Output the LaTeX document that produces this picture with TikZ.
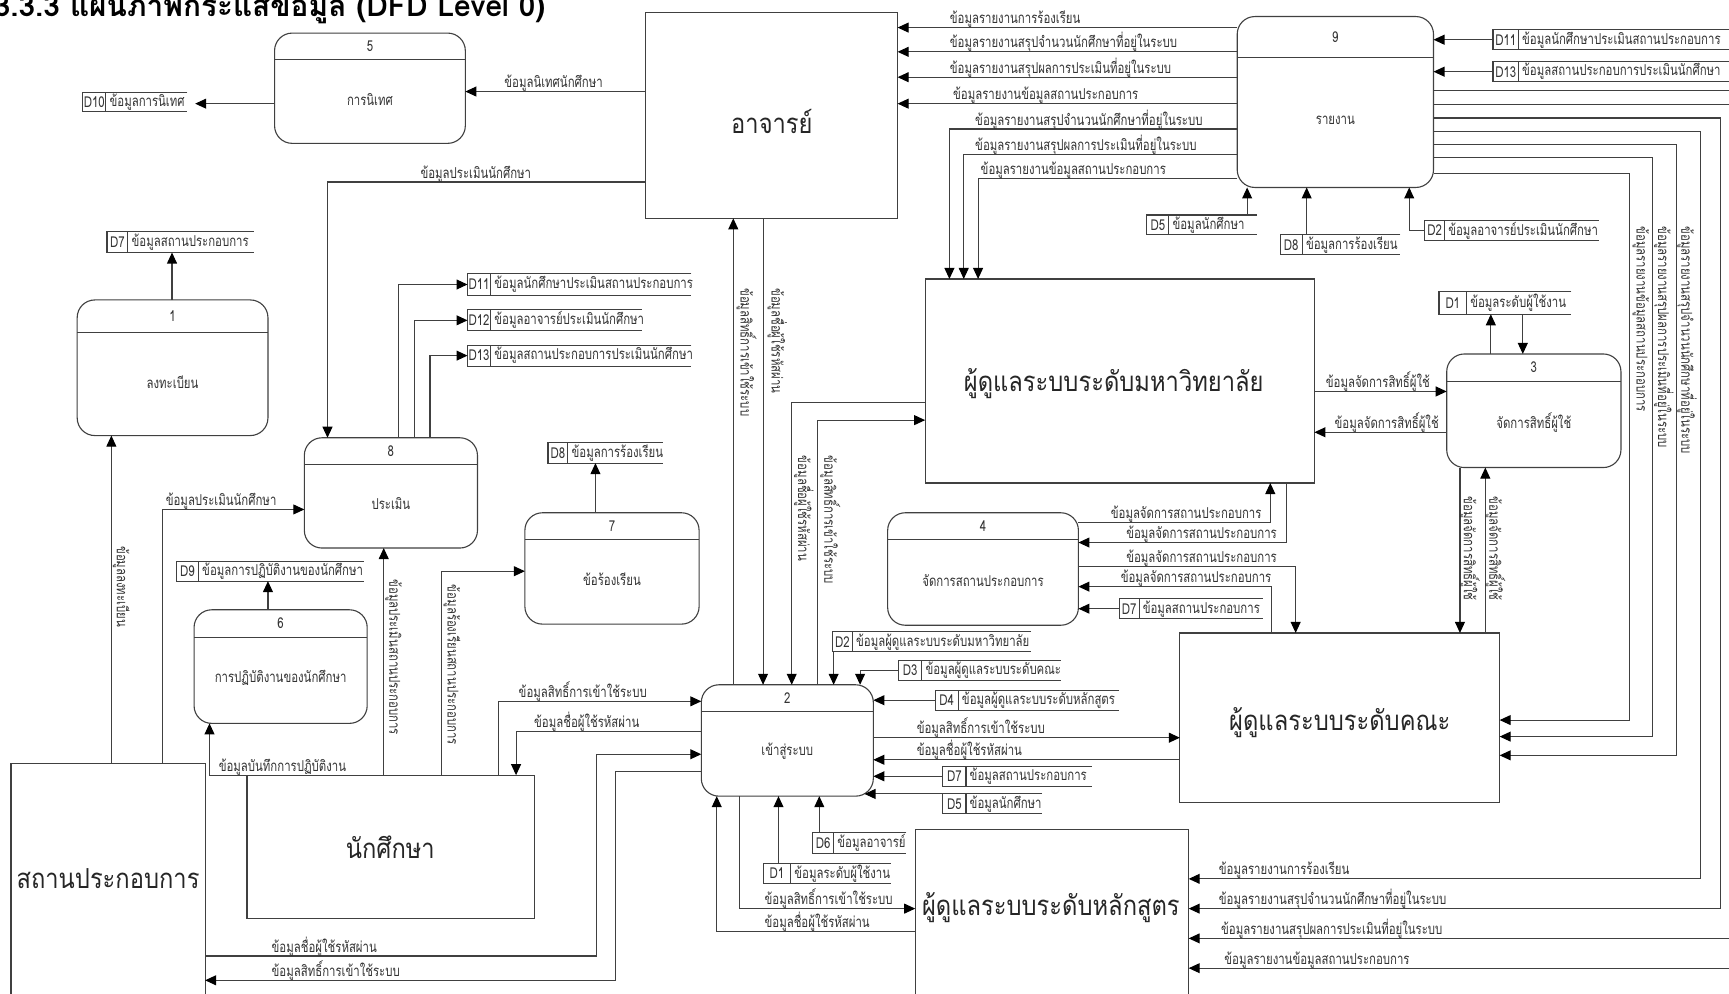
\documentclass[tikz,border=0pt]{standalone}
\usepackage{fontspec}
\usetikzlibrary{arrows.meta}
\newfontfamily\thaif[Script=Thai,FakeStretch=0.76]{Loma}
\newfontfamily\thaibig[Script=Thai,FakeStretch=0.86]{Loma}
\newfontfamily\thaititle[Script=Thai]{Loma}
\newcommand\lblfont{\thaif\fontsize{6.8}{8}\selectfont}
\newcommand\bigfont{\thaibig\fontsize{12.5}{15}\selectfont}
\newcommand\titlefont{\thaititle\bfseries\fontsize{13.5}{16}\selectfont}
\tikzset{
  ln/.style={draw=black!75, line width=0.5pt},
  arr/.style={ln, -{Triangle[length=5pt,width=4.5pt,color=black]}},
  ent/.style={draw=black!75, line width=0.5pt},
  proc/.style={draw=black!75, line width=0.5pt, rounded corners=8pt},
  storebox/.style={},
  lbl/.style={font=\lblfont, text=black!80, inner sep=0pt},
  biglbl/.style={font=\bigfont, text=black!85, inner sep=0pt},
}
\newcommand\mkbox[6]{%
  \pgfmathsetmacro\bw{((#5)-(#3))*0.5}%
  \pgfmathsetmacro\bh{((#6)-(#4))*0.5}%
  \node[#1, minimum width=\bw pt, minimum height=\bh pt, inner sep=0pt, outer sep=0pt, anchor=north west] (#2) at (#3,#4) {};}
\newcommand\mkproc[7]{%
  \mkbox{proc}{#1}{#2}{#3}{#4}{#5}%
  \pgfmathsetmacro\hy{#3+0.24*(#5-#3)}%
  \draw[ln] (#2,\hy) -- (#4,\hy);
  \node[lbl] (#1-n) at ({(#2+#4)/2},{(#3+\hy)/2}) {#6};
  \node[lbl] (#1-t) at ({(#2+#4)/2},{(\hy+#5)/2-2}) {#7};}
\newcommand\mkstore[8]{%
  \mkbox{storebox}{#1}{#2}{#3}{#4}{#5}%
  \draw[ln] (#4,#3) -- (#2,#3) -- (#2,#5) -- (#4,#5);
  \draw[ln] (#6,#3) -- (#6,#5);
  \node[lbl] (#1-id) at ({(#2+#6)/2},{(#3+#5)/2}) {#7};
  \node[lbl, anchor=west] (#1-t) at ({#6+3},{(#3+#5)/2}) {#8};}
\newcommand\hl[4]{\node[lbl, anchor=base west] (#1) at (#2,{#3-3.5}) {#4};}
\newcommand\vl[4]{\node[lbl, rotate=-90, anchor=west] (#1) at (#2,#3) {#4};}
\begin{document}
\begin{tikzpicture}[x=0.5pt,y=-0.5pt]
\fill[white] (0,0) rectangle (1568,901);
\useasboundingbox (0,0) rectangle (1568,901);
\node[anchor=base west, inner sep=0pt] (title) at (-6,15) {\titlefont 3.3.3 แผนภาพกระแสข้อมูล (DFD Level 0)};
% entities
\mkbox{ent}{aj}{585}{11}{814}{198}
\mkbox{ent}{uni}{839}{253}{1192}{438}
\mkbox{ent}{fac}{1070}{574}{1360}{728}
\mkbox{ent}{cur}{830}{752}{1078}{915}
\mkbox{ent}{std}{224}{703}{485}{833}
\mkbox{ent}{est}{10}{692}{186}{915}
\node[biglbl] (aj-t) at (700,110) {อาจารย์};
\node[biglbl] (uni-t) at (1010,348) {ผู้ดูแลระบบระดับมหาวิทยาลัย};
\node[biglbl] (fac-t) at (1215,655) {ผู้ดูแลระบบระดับคณะ};
\node[biglbl] (cur-t) at (953,823) {ผู้ดูแลระบบระดับหลักสูตร};
\node[biglbl] (std-t) at (354,768) {นักศึกษา};
\node[biglbl] (est-t) at (98,797) {สถานประกอบการ};
% processes
\mkproc{p5}{249}{30}{422}{130}{5}{การนิเทศ}
\mkproc{p9}{1122}{15}{1300}{170}{9}{รายงาน}
\mkproc{p1}{70}{272}{243}{395}{1}{ลงทะเบียน}
\mkproc{p8}{276}{397}{433}{497}{8}{ประเมิน}
\mkproc{p7}{476}{465}{634}{566}{7}{ข้อร้องเรียน}
\mkproc{p6}{176}{553}{333}{656}{6}{การปฏิบัติงานของนักศึกษา}
\mkproc{p4}{805}{465}{978}{567}{4}{จัดการสถานประกอบการ}
\mkproc{p2}{636}{621}{792}{722}{2}{เข้าสู่ระบบ}
\mkproc{p3}{1312}{321}{1470}{424}{3}{จัดการสิทธิ์ผู้ใช้}
% data stores
\mkstore{d10}{75}{84}{170}{101}{96}{D10}{ข้อมูลการนิเทศ}
\mkstore{d7a}{97}{210}{230}{229}{116}{D7}{ข้อมูลสถานประกอบการ}
\mkstore{d11a}{424}{248}{627}{268}{445}{D11}{ข้อมูลนักศึกษาประเมินสถานประกอบการ}
\mkstore{d12}{424}{281}{582}{300}{445}{D12}{ข้อมูลอาจารย์ประเมินนักศึกษา}
\mkstore{d13a}{424}{313}{627}{332}{445}{D13}{ข้อมูลสถานประกอบการประเมินนักศึกษา}
\mkstore{d8a}{497}{401}{601}{420}{515}{D8}{ข้อมูลการร้องเรียน}
\mkstore{d9}{160}{509}{330}{527}{180}{D9}{ข้อมูลการปฏิบัติงานของนักศึกษา}
\mkstore{d2a}{755}{573}{935}{591}{773}{D2}{ข้อมูลผู้ดูแลระบบระดับมหาวิทยาลัย}
\mkstore{d3}{815}{599}{962}{617}{836}{D3}{ข้อมูลผู้ดูแลระบบระดับคณะ}
\mkstore{d4}{848}{626}{1015}{644}{869}{D4}{ข้อมูลผู้ดูแลระบบระดับหลักสูตร}
\mkstore{d7b}{855}{695}{990}{713}{876}{D7}{ข้อมูลสถานประกอบการ}
\mkstore{d5b}{855}{720}{945}{738}{876}{D5}{ข้อมูลนักศึกษา}
\mkstore{d6}{737}{755}{822}{774}{756}{D6}{ข้อมูลอาจารย์}
\mkstore{d1b}{692}{783}{808}{801}{717}{D1}{ข้อมูลระดับผู้ใช้งาน}
\mkstore{d7c}{1015}{543}{1145}{561}{1033}{D7}{ข้อมูลสถานประกอบการ}
\mkstore{d5a}{1040}{195}{1140}{213}{1060}{D5}{ข้อมูลนักศึกษา}
\mkstore{d8b}{1161}{213}{1270}{231}{1181}{D8}{ข้อมูลการร้องเรียน}
\mkstore{d2b}{1292}{200}{1450}{218}{1310}{D2}{ข้อมูลอาจารย์ประเมินนักศึกษา}
\mkstore{d1a}{1305}{264}{1425}{285}{1330}{D1}{ข้อมูลระดับผู้ใช้งาน}
\mkstore{d11b}{1354}{27}{1580}{45}{1377}{D11}{ข้อมูลนักศึกษาประเมินสถานประกอบการ}
\mkstore{d13b}{1354}{56}{1580}{74}{1377}{D13}{ข้อมูลสถานประกอบการประเมินนักศึกษา}
\coordinate (d10in) at (177,94);
\coordinate (p2c) at (784,720);
% connectors
\draw[arr] (aj.west |- 0,83) -- (p5.east |- 0,83);
\draw[arr] (p5.west |- d10in) -- (d10in);
\draw[arr] (aj.west |- 0,165) -| (p8.north -| 297,0);
\foreach \yy in {25,47,70,94} {\draw[arr] (p9.west |- 0,\yy) -- (aj.east |- 0,\yy);}
\draw[arr] (p9.west |- 0,117) -| (uni.north -| 861,0);
\draw[arr] (p9.west |- 0,140) -| (uni.north -| 874,0);
\draw[arr] (p9.west |- 0,162) -| (uni.north -| 887,0);
\draw[arr] (d11b.west) -- (p9.east |- d11b.west);
\draw[arr] (d13b.west) -- (p9.east |- d13b.west);
\draw[arr] (d5a.north -| 1131,0) -- (p9.south -| 1131,0);
\draw[arr] (d8b.north -| 1185,0) -- (p9.south -| 1185,0);
\draw[arr] (d2b.west) -| (p9.south -| 1278,0);
\draw[arr] (p9.east |- 0,82) -| (1590,878) -- (cur.east |- 0,878);
\draw[arr] (p9.east |- 0,94.5) -| (1578,851) -- (cur.east |- 0,851);
\draw[arr] (p9.east |- 0,107) -| (1560,824) -- (cur.east |- 0,824);
\draw[arr] (p9.east |- 0,119) -| (1542,797) -- (cur.east |- 0,797);
\draw[arr] (p9.east |- 0,131) -| (1520,685) -- (fac.east |- 0,685);
\draw[arr] (p9.east |- 0,143) -| (1499,668) -- (fac.east |- 0,668);
\draw[arr] (p9.east |- 0,157) -| (1478,653) -- (fac.east |- 0,653);
\draw[arr] (uni.east |- 0,355) -- (p3.west |- 0,355);
\draw[arr] (p3.west |- 0,392) -- (uni.east |- 0,392);
\draw[arr] (p3.north -| 1352,0) -- (d1a.south -| 1352,0);
\draw[arr] (d1a.south -| 1381,0) -- (p3.north -| 1381,0);
\draw[arr] (p3.south -| 1324,0) -- (fac.north -| 1324,0);
\draw[arr] (fac.north -| 1347,0) -- (p3.south -| 1347,0);
\draw[arr] (p4.east |- 0,474) -| (uni.south -| 1152,0);
\draw[arr] (uni.south -| 1167,0) |- (p4.east |- 0,492);
\draw[arr] (p4.east |- 0,514) -| (fac.north -| 1175,0);
\draw[arr] (fac.north -| 1153,0) |- (p4.east |- 0,532);
\draw[arr] (d7c.west) -- (p4.east |- d7c.west);
\draw[arr] (p2.north -| 665,0) -- (aj.south -| 665,0);
\draw[arr] (aj.south -| 692,0) -- (p2.north -| 692,0);
\draw[arr] (uni.west |- 0,365) -| (p2.north -| 718,0);
\draw[arr] (p2.north -| 741,0) |- (uni.west |- 0,381);
\draw[arr] (d2a.south -| 756,0) -- (p2.north -| 756,0);
\draw[arr] (d3.west) -| (p2.north -| 780,0);
\draw[arr] (d4.west) -- (p2.east |- d4.west);
\draw[arr] (p2.east |- 0,669) -- (fac.west |- 0,669);
\draw[arr] (fac.west |- 0,689) -- (p2.east |- 0,689);
\draw[arr] (d7b.west) -- (p2.east |- d7b.west);
\draw[arr] (d5b.north west) -- (p2c);
\draw[arr] (d1b.north -| 706,0) -- (p2.south -| 706,0);
\draw[arr] (d6.north -| 743,0) -- (p2.south -| 743,0);
\draw[arr] (p2.south -| 671,0) |- (cur.west |- 0,824);
\draw[arr] (cur.west |- 0,845) -| (p2.south -| 650,0);
\draw[arr] (std.north -| 452,0) |- (p2.west |- 0,636);
\draw[arr] (p2.west |- 0,663) -| (std.north -| 468,0);
\draw[arr] (est.east |- 0,867) -| (541,684) -- (p2.west |- 0,684);
\draw[arr] (p2.west |- 0,700) -| (558,889) -- (est.east |- 0,889);
\draw[arr] (std.north west) -| (p6.south -| 190,0);
\draw[arr] (std.north -| 348,0) -- (p8.south -| 348,0);
\draw[arr] (std.north -| 400,0) |- (p7.west |- 0,518);
\draw[arr] (p7.north -| 540,0) -- (d8a.south -| 540,0);
\draw[arr] (p6.north -| 243,0) -- (d9.south -| 243,0);
\draw[arr] (p8.north -| 361,0) |- (d11a.west);
\draw[arr] (p8.north -| 376,0) |- (d12.west);
\draw[arr] (p8.north -| 390,0) |- (d13a.west);
\draw[arr] (est.north -| 101,0) -- (p1.south -| 101,0);
\draw[arr] (est.north -| 147,0) |- (p8.west |- 0,462);
\draw[arr] (p1.north -| 156,0) -- (d7a.south -| 156,0);
% labels
\hl{La}{457}{83}{ข้อมูลนิเทศนักศึกษา}
\hl{Lb}{381}{165}{ข้อมูลประเมินนักศึกษา}
\hl{Lc}{861}{25}{ข้อมูลรายงานการร้องเรียน}
\hl{Ld}{861}{47}{ข้อมูลรายงานสรุปจำนวนนักศึกษาที่อยู่ในระบบ}
\hl{Le}{861}{70}{ข้อมูลรายงานสรุปผลการประเมินที่อยู่ในระบบ}
\hl{Lf}{864}{94}{ข้อมูลรายงานข้อมูลสถานประกอบการ}
\hl{Lg}{884}{117}{ข้อมูลรายงานสรุปจำนวนนักศึกษาที่อยู่ในระบบ}
\hl{Lh}{884}{140}{ข้อมูลรายงานสรุปผลการประเมินที่อยู่ในระบบ}
\hl{Li}{889}{162}{ข้อมูลรายงานข้อมูลสถานประกอบการ}
\hl{Lj}{1202}{355}{ข้อมูลจัดการสิทธิ์ผู้ใช้}
\hl{Lk}{1210}{392}{ข้อมูลจัดการสิทธิ์ผู้ใช้}
\hl{Ll}{1007}{474}{ข้อมูลจัดการสถานประกอบการ}
\hl{Lm}{1021}{492}{ข้อมูลจัดการสถานประกอบการ}
\hl{Ln}{1021}{514}{ข้อมูลจัดการสถานประกอบการ}
\hl{Lo}{1016}{532}{ข้อมูลจัดการสถานประกอบการ}
\hl{Lp}{831}{669}{ข้อมูลสิทธิ์การเข้าใช้ระบบ}
\hl{Lq}{831}{689}{ข้อมูลชื่อผู้ใช้รหัสผ่าน}
\hl{Lr}{693}{824}{ข้อมูลสิทธิ์การเข้าใช้ระบบ}
\hl{Ls}{693}{845}{ข้อมูลชื่อผู้ใช้รหัสผ่าน}
\hl{Lt}{470}{636}{ข้อมูลสิทธิ์การเข้าใช้ระบบ}
\hl{Lu}{484}{663}{ข้อมูลชื่อผู้ใช้รหัสผ่าน}
\hl{Lv}{246}{867}{ข้อมูลชื่อผู้ใช้รหัสผ่าน}
\hl{Lw}{246}{889}{ข้อมูลสิทธิ์การเข้าใช้ระบบ}
\hl{Lx}{198}{703}{ข้อมูลบันทึกการปฏิบัติงาน}
\hl{Ly}{150}{462}{ข้อมูลประเมินนักศึกษา}
\hl{Lz1}{1105}{797}{ข้อมูลรายงานการร้องเรียน}
\hl{Lz2}{1105}{824}{ข้อมูลรายงานสรุปจำนวนนักศึกษาที่อยู่ในระบบ}
\hl{Lz3}{1107}{851}{ข้อมูลรายงานสรุปผลการประเมินที่อยู่ในระบบ}
\hl{Lz4}{1110}{878}{ข้อมูลรายงานข้อมูลสถานประกอบการ}
\vl{V1}{110}{495}{ข้อมูลลงทะเบียน}
\vl{V2}{357}{525}{ข้อมูลประเมินสถานประกอบการ}
\vl{V3}{410}{530}{ข้อมูลร้องเรียนสถานประกอบการ}
\vl{V4}{677}{261}{ข้อมูลสิทธิ์การเข้าใช้ระบบ}
\vl{V5}{705}{261}{ข้อมูลชื่อผู้ใช้รหัสผ่าน}
\vl{V6}{729}{413}{ข้อมูลชื่อผู้ใช้รหัสผ่าน}
\vl{V7}{753}{413}{ข้อมูลสิทธิ์การเข้าใช้ระบบ}
\vl{V8}{1333}{450}{ข้อมูลจัดการสิทธิ์ผู้ใช้}
\vl{V9}{1356}{450}{ข้อมูลจัดการสิทธิ์ผู้ใช้}
\vl{V10}{1488}{205}{ข้อมูลรายงานข้อมูลสถานประกอบการ}
\vl{V11}{1509}{205}{ข้อมูลรายงานสรุปผลการประเมินที่อยู่ในระบบ}
\vl{V12}{1530}{205}{ข้อมูลรายงานสรุปจำนวนนักศึกษาที่อยู่ในระบบ}
\end{tikzpicture}
\end{document}
